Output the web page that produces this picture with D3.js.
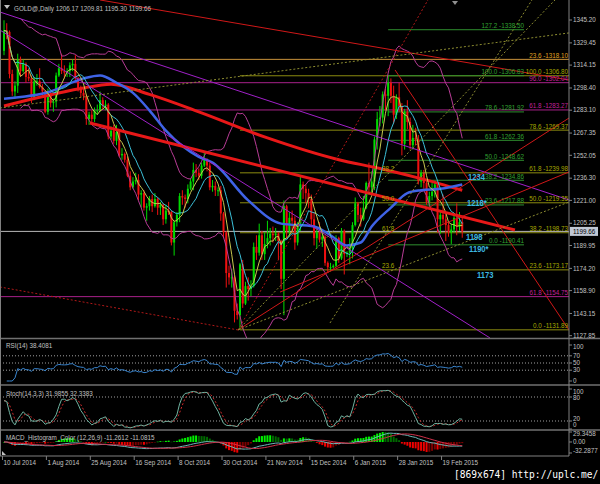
<!DOCTYPE html>
<html><head><meta charset="utf-8">
<script src="https://cdn.jsdelivr.net/npm/d3@7"></script>
<style>
html,body{margin:0;padding:0;background:#000;}
svg{display:block;}
text{font-family:"Liberation Sans",Arial,sans-serif;}
text.mark{font-family:"DejaVu Sans Mono",monospace;}
</style></head><body>
<svg id="chart" width="600" height="484"></svg>
<script>
// ---- daily bars, 10 Jul 2014 .. 2 Mar 2015 ----
const opens = [1324,1338,1337,1308,1296,1300,1318,1310,1315,1306,1305,1292,1303,1303,1299,1296,1282,1294,1288,1289,
1307,1312,1310,1309,1310,1314,1315,1305,1298,1295,1293,1277,1280,1277,1283,1283,1290,1286,1287,1265,
1269,1262,1268,1252,1253,1249,1238,1230,1234,1235,1225,1226,1216,1217,1222,1217,1222,1216,1218,1208,
1214,1213,1192,1206,1211,1224,1223,1222,1229,1234,1242,1240,1238,1245,1249,1245,1230,1231,1228,1228,
1212,1199,1171,1168,1168,1145,1142,1177,1150,1162,1160,1162,1189,1185,1197,1184,1191,1195,1198,1197,
1198,1193,1167,1217,1200,1209,1207,1192,1205,1232,1229,1226,1222,1208,1195,1199,1194,1196,1178,1175,
1175,1176,1195,1181,1200,1184,1185,1188,1204,1219,1211,1208,1216,1233,1230,1234,1263,1277,1278,1294,
1293,1302,1293,1280,1292,1286,1260,1282,1275,1259,1264,1263,1234,1240,1233,1220,1224,1227,1232,1208,
1211,1208,1204,1199,1201,1209,1203,1206.17];
const highs = [1345,1343,1338,1311,1303,1322,1320,1318,1316,1312,1307,1306,1308,1312,1301,1297,1298,1296,1291,1309,
1315,1322,1314,1312,1316,1318,1321,1306,1300,1298,1294,1282,1283,1285,1287,1296,1292,1290,1288,1272,
1273,1273,1269,1257,1254,1251,1241,1237,1240,1239,1228,1228,1219,1224,1225,1226,1223,1220,1219,1218,
1220,1214,1207,1213,1226,1228,1225,1232,1236,1247,1246,1243,1247,1255,1250,1247,1235,1234,1230,1231,
1213,1200,1176,1174,1169,1150,1178,1180,1165,1168,1166,1192,1197,1205,1200,1199,1207,1202,1203,1202,
1199,1194,1221,1218,1213,1214,1210,1206,1238,1234,1232,1229,1225,1213,1202,1206,1199,1197,1179,1178,
1177,1197,1196,1202,1201,1186,1195,1206,1223,1220,1216,1224,1234,1247,1241,1265,1282,1286,1296,1298,
1307,1305,1300,1294,1302,1288,1284,1290,1278,1273,1271,1266,1242,1242,1235,1227,1233,1234,1233,1214,
1225,1212,1206,1205,1212,1219,1213,1209.81];
const lows = [1321,1332,1305,1293,1291,1295,1306,1309,1302,1303,1288,1290,1300,1298,1293,1281,1280,1285,1282,1285,
1306,1308,1305,1306,1306,1310,1304,1296,1292,1290,1273,1273,1275,1275,1280,1282,1284,1283,1263,1263,
1260,1259,1251,1249,1247,1237,1228,1229,1232,1221,1216,1214,1207,1214,1213,1216,1211,1211,1204,1205,
1211,1190,1183,1203,1206,1218,1216,1219,1228,1228,1237,1235,1236,1244,1241,1228,1227,1224,1224,1207,
1195,1161,1163,1161,1137,1139,1132,1147,1149,1152,1155,1161,1180,1183,1180,1180,1188,1190,1192,1193,
1180,1160,1142,1195,1196,1199,1187,1190,1200,1222,1219,1216,1204,1190,1188,1192,1189,1176,1171,1172,
1174,1175,1178,1180,1170,1182,1177,1181,1203,1206,1203,1207,1215,1226,1225,1228,1256,1272,1274,1283,
1279,1288,1274,1277,1282,1252,1256,1270,1256,1256,1259,1232,1230,1229,1218,1216,1221,1223,1199,1198,
1205,1193,1196,1191,1199,1197,1200,1195.30];
const closes = [1338,1337,1308,1296,1300,1318,1310,1315,1306,1305,1292,1303,1303,1299,1296,1282,1294,1288,1289,1307,
1312,1310,1309,1310,1314,1315,1305,1298,1295,1293,1277,1280,1277,1283,1283,1290,1286,1287,1265,1269,
1262,1268,1252,1253,1249,1238,1230,1234,1235,1225,1226,1216,1217,1222,1217,1222,1216,1218,1208,1214,
1213,1192,1206,1211,1224,1223,1222,1229,1234,1242,1240,1238,1245,1249,1245,1230,1231,1228,1228,1212,
1199,1171,1168,1168,1145,1142,1177,1150,1162,1160,1162,1189,1185,1197,1184,1191,1195,1198,1197,1198,
1193,1167,1217,1200,1209,1207,1192,1205,1232,1229,1226,1222,1208,1195,1199,1194,1196,1178,1175,1175,
1176,1195,1181,1200,1184,1185,1188,1204,1219,1211,1208,1216,1233,1230,1234,1263,1277,1278,1294,1293,
1302,1293,1280,1292,1286,1260,1282,1275,1259,1264,1263,1234,1240,1233,1220,1224,1227,1232,1208,1211,
1208,1204,1199,1201,1209,1203,1206,1199.66];

// ---- time axis ----
const dateLabels = ["10 Jul 2014","1 Aug 2014","25 Aug 2014","16 Sep 2014","8 Oct 2014","30 Oct 2014",
                    "21 Nov 2014","15 Dec 2014","6 Jan 2015","28 Jan 2015","19 Feb 2015"];
const dateIdx = [0,16,32,48,64,80,96,112,128,144,160];

// ---- price axis ----
const priceTicks = [1345.20,1329.45,1314.15,1298.40,1283.10,1267.35,1252.05,1236.30,1221.00,1205.25,1189.95,1174.20,1158.90,1143.15,1127.85];
const lastPrice = 1199.66;

// ---- slow averages (bar index, price) ----
const blueIdx = [0,17,29,35,41,47,53,59,71,76,89,101,113,119,125,130,134,141,147,152,159,167];
const blueVal = [1291,1296,1305,1307,1302,1295,1283,1269,1251,1247,1221,1205,1203,1197,1190,1192,1203,1216,1226,1228,1229,1232];
const redMaIdx = [0,13,28,39,53,71,96,122,137,152,167];
const redMaVal = [1286,1292,1298,1301,1294,1282,1264,1249,1243,1236,1228];

// ---- fibonacci levels [level, price] ----
const oliveFib = [[0.0,1131.89],[23.6,1173.17],[38.2,1198.73],[50.0,1219.35],[61.8,1239.98],[78.6,1269.37],[100.0,1306.80]];
const greenFib = [[0.0,1190.41],[23.6,1217.88],[38.2,1234.86],[50.0,1248.62],[61.8,1262.36],[78.6,1281.92],[100.0,1306.83],[127.2,1338.50]];
const magentaFib = [[96.0,1302.04],[61.8,1283.27],[61.8,1154.75]];
const orangeFib = [[23.6,1318.10]];
const oliveInner = [["38.2",1239.98],["50.0",1219.35],["61.8",1198.73],["23.6",1173.17]];

// ---- trend lines: [[idx, price],[idx, price]] ----
const thickRedLines = [[[31.3,1274.3],[186.2,1200.6]]];
const violetLines = [[[-1.5,1350.7],[205.9,1221.3]], [[-1.5,1338.3],[177.1,1126.3]]];
const redLines = [[[35.0,1359.0],[205.9,1303.9]], [[85.3,1131.8],[205.9,1277.7]], [[142.5,1310.8],[205.9,1131.8]], [[100.6,1157.9],[205.9,1240.6]]];
const redDotted = [[[-1.5,1161.4],[85.3,1131.8]], [[85.3,1131.8],[154.5,1359.0]]];
const oliveDotted = [[[85.3,1131.8],[205.9,1219.9]], [[118.8,1136.6],[192.4,1359.0]], [[85.3,1131.8],[200.8,1359.0]], [[-1.5,1284.6],[205.9,1336.3]]];

// ---- level notes ----
const notes = [["1234",169.1,1237.1],["1218*",168.7,1219.2],["1198",168.4,1195.8],["1190*",169.5,1187.5],["1173",172.4,1169.6]];

// ---- indicator captions ----
const rsiCaption = "RSI(14) 38.4081";
const stochCaption = "Stoch(14,3,3) 31.9855 32.3383";
const macdCaption = "MACD_Histogram_Color (12,26,9) -11.2612 -11.0815";
const macdTop = 29.3458, macdBottom = -32.2877;
const histGain = 2.7;   // histogram drawn at the indicator's amplified scale

const FS = 6.3;
const svg = d3.select("#chart");
const AX = 569;
const n = closes.length;
const x = d3.scaleLinear().domain([0, n - 1]).range([4, 4 + 2.744 * (n - 1)]);
const y = d3.scaleLinear().domain([1127.85, 1345.20]).range([335.7, 20]);
const yR = d3.scaleLinear().domain([0, 100]).range([381, 345]);
const yS = d3.scaleLinear().domain([0, 100]).range([429, 389]);
const yM = d3.scaleLinear().domain([macdBottom, macdTop]).range([453, 432]);

svg.append("rect").attr("width", 600).attr("height", 484).attr("fill", "#000");

const defs = svg.append("defs");
function clip(id, y0, y1) {
  defs.append("clipPath").attr("id", id).append("rect").attr("x", 0).attr("y", y0).attr("width", AX).attr("height", y1 - y0);
}
clip("cMain", 0, 338); clip("cRsi", 340, 384); clip("cSto", 386, 429); clip("cMacd", 431, 455.5);

const main = svg.append("g").attr("clip-path", "url(#cMain)");
const seg = d3.line().x(d => x(d[0])).y(d => y(d[1]));

// horizontal levels
function levels(list, i0, i1, color) {
  list.forEach(([lv, p]) => {
    main.append("line").attr("x1", x(i0)).attr("x2", x(i1)).attr("y1", y(p)).attr("y2", y(p))
      .attr("stroke", color).attr("stroke-width", 1);
  });
}
levels(orangeFib, -3, 207, "#c8913a");
levels(magentaFib, -3, 207, "#a8208a");
levels(oliveFib, 86, 207, "#8c8c10");
levels(greenFib, 140, 189.5, "#2f8f2f");

// bid line
main.append("line").attr("x1", 0).attr("x2", AX).attr("y1", y(lastPrice)).attr("y2", y(lastPrice))
  .attr("stroke", "#b8b8b8").attr("stroke-width", 1);

// candles
const bars = main.append("g");
closes.forEach((c, i) => {
  const o = opens[i], up = c >= o, col = up ? "#00dc00" : "#f01010";
  bars.append("line").attr("x1", x(i)).attr("x2", x(i)).attr("y1", y(highs[i])).attr("y2", y(lows[i]))
    .attr("stroke", col).attr("stroke-width", 1);
  const t = Math.min(y(o), y(c)), h = Math.max(1, Math.abs(y(o) - y(c)));
  bars.append("rect").attr("x", x(i) - 1).attr("y", t).attr("width", 2).attr("height", h).attr("fill", col);
});

// indicators computed from closes
function sma(a, p) { return a.map((_, i) => { const s = Math.max(0, i - p + 1); return d3.mean(a.slice(s, i + 1)); }); }
function ema(a, p) { const k = 2 / (p + 1); const out = []; a.forEach((v, i) => out.push(i ? out[i - 1] + k * (v - out[i - 1]) : v)); return out; }
const ma5 = sma(closes, 5), ma10 = sma(closes, 10), mid20 = sma(closes, 20);
const bbUp = [], bbDn = [];
closes.forEach((c, i) => {
  const s = Math.max(0, i - 19), w = closes.slice(s, i + 1), m = mid20[i];
  const sd = Math.sqrt(d3.mean(w.map(v => (v - m) * (v - m))));
  bbUp.push(m + 2 * sd); bbDn.push(m - 2 * sd);
});
const serie = (arr, from) => arr.map((v, i) => [i, v]).filter(d => d[0] >= from);
const ln = d3.line().x(d => x(d[0])).y(d => y(d[1]));
const lnCurve = d3.line().x(d => x(d[0])).y(d => y(d[1])).curve(d3.curveMonotoneX);

main.append("path").attr("d", ln(serie(bbUp, 6))).attr("fill", "none").attr("stroke", "#b83c96").attr("stroke-width", 1);
main.append("path").attr("d", ln(serie(bbDn, 6))).attr("fill", "none").attr("stroke", "#b83c96").attr("stroke-width", 1);
main.append("path").attr("d", lnCurve(redMaIdx.map((d, i) => [d, redMaVal[i]]))).attr("fill", "none").attr("stroke", "#e81818").attr("stroke-width", 3);
main.append("path").attr("d", lnCurve(blueIdx.map((d, i) => [d, blueVal[i]]))).attr("fill", "none").attr("stroke", "#3f63e6").attr("stroke-width", 2.5);
main.append("path").attr("d", ln(serie(ma10, 0))).attr("fill", "none").attr("stroke", "#3cc0d8").attr("stroke-width", 1);
main.append("path").attr("d", ln(serie(ma5, 0))).attr("fill", "none").attr("stroke", "#c8c850").attr("stroke-width", 1);

// trend lines
thickRedLines.forEach(l => main.append("path").attr("d", seg(l)).attr("stroke", "#e81818").attr("stroke-width", 3));
violetLines.forEach(l => main.append("path").attr("d", seg(l)).attr("stroke", "#a020c8").attr("stroke-width", 1));
redLines.forEach(l => main.append("path").attr("d", seg(l)).attr("stroke", "#d01818").attr("stroke-width", 1));
redDotted.forEach(l => main.append("path").attr("d", seg(l)).attr("stroke", "#b01818").attr("stroke-width", 1).attr("stroke-dasharray", "2,2"));
oliveDotted.forEach(l => main.append("path").attr("d", seg(l)).attr("stroke", "#8c8c30").attr("stroke-width", 1).attr("stroke-dasharray", "2,2"));

// level captions
function captions(list, endX, color) {
  list.forEach(([lv, p]) => {
    main.append("text").attr("x", endX).attr("y", y(p) - 1.5).attr("text-anchor", "end")
      .attr("font-size", FS).attr("fill", color).text(lv.toFixed(1) + " -" + p.toFixed(2));
  });
}
captions(orangeFib, AX - 1, "#e0a020");
captions(magentaFib, AX - 1, "#c0209a");
captions(oliveFib, AX - 1, "#a8a800");
captions(greenFib, x(189.5), "#30a030");
oliveInner.forEach(([t, p]) => main.append("text").attr("x", x(137.8)).attr("y", y(p) - 1.5)
  .attr("font-size", FS).attr("fill", "#a8a800").text(t));
notes.forEach(([t, i, p]) => main.append("text")
  .attr("transform", `translate(${x(i)},${y(p)}) scale(0.8,1)`).attr("dy", "0.35em")
  .attr("font-size", 9.5).attr("font-weight", "bold").attr("fill", "#3cb8e0").text(t));

// header
svg.append("path").attr("d", "M4,5 L10,5 L7,9 Z").attr("fill", "#c0c0c0");
svg.append("text").attr("x", 14).attr("y", 10.5).attr("font-size", FS).attr("fill", "#c0c0c0")
  .text("GOLD@,Daily  1206.17 1209.81 1195.30 1199.66");

// ---- RSI ----
function rsi(c, p) {
  const out = [null]; let ag = 0, al = 0;
  for (let i = 1; i < c.length; i++) {
    const d = c[i] - c[i - 1], g = Math.max(d, 0), l = Math.max(-d, 0);
    if (i <= p) { ag = (ag * (i - 1) + g) / i; al = (al * (i - 1) + l) / i; }
    else { ag = (ag * (p - 1) + g) / p; al = (al * (p - 1) + l) / p; }
    out.push(al === 0 ? 100 : 100 - 100 / (1 + ag / al));
  }
  return out;
}
const rsiV = rsi(closes, 14);
const gR = svg.append("g").attr("clip-path", "url(#cRsi)");
[70, 50, 30].forEach(v => gR.append("line").attr("x1", 0).attr("x2", AX).attr("y1", yR(v)).attr("y2", yR(v))
  .attr("stroke", "#a0a0a0").attr("stroke-dasharray", "1,2"));
gR.append("path").attr("d", d3.line().x(d => x(d[0])).y(d => yR(d[1]))(serie(rsiV, 1)))
  .attr("fill", "none").attr("stroke", "#3a86d0").attr("stroke-width", 1);

// ---- Stochastic ----
const kRaw = closes.map((c, i) => {
  const s = Math.max(0, i - 13);
  return [c - d3.min(lows.slice(s, i + 1)), d3.max(highs.slice(s, i + 1)) - d3.min(lows.slice(s, i + 1))];
});
const kSlow = kRaw.map((_, i) => {
  const s = Math.max(0, i - 2), w = kRaw.slice(s, i + 1);
  return 100 * d3.sum(w, d => d[0]) / d3.sum(w, d => d[1]);
});
const dSig = sma(kSlow, 3);
const gS = svg.append("g").attr("clip-path", "url(#cSto)");
[80, 20].forEach(v => gS.append("line").attr("x1", 0).attr("x2", AX).attr("y1", yS(v)).attr("y2", yS(v))
  .attr("stroke", "#a0a0a0").attr("stroke-dasharray", "1,2"));
const lS = d3.line().x(d => x(d[0])).y(d => yS(d[1]));
gS.append("path").attr("d", lS(serie(dSig, 0))).attr("fill", "none").attr("stroke", "#cc2a2a").attr("stroke-dasharray", "2,2");
gS.append("path").attr("d", lS(serie(kSlow, 0))).attr("fill", "none").attr("stroke", "#6fb3a0");

// ---- MACD ----
const e12 = ema(closes, 12), e26 = ema(closes, 26);
const macd = closes.map((_, i) => e12[i] - e26[i]);
const sig = sma(macd, 9);
const hist = macd.map((m, i) => histGain * (m - sig[i]));
const gM = svg.append("g").attr("clip-path", "url(#cMacd)");
hist.forEach((h, i) => {
  const prev = i ? hist[i - 1] : 0;
  const col = h >= 0 ? (h >= prev ? "#00f000" : "#006a00") : (h <= prev ? "#f00000" : "#7a0000");
  gM.append("rect").attr("x", x(i) - 1).attr("width", 2)
    .attr("y", Math.min(yM(h), yM(0))).attr("height", Math.max(0.5, Math.abs(yM(h) - yM(0)))).attr("fill", col);
});
const lM = d3.line().x(d => x(d[0])).y(d => yM(d[1]));
gM.append("path").attr("d", lM(serie(macd, 0))).attr("fill", "none").attr("stroke", "#6ab8b8");
gM.append("path").attr("d", lM(serie(sig, 0))).attr("fill", "none").attr("stroke", "#d0304a");

// ---- frames and separators ----
[338.5, 385, 430].forEach(yy => svg.append("line").attr("x1", 0).attr("x2", 600)
  .attr("y1", yy).attr("y2", yy).attr("stroke", "#707070").attr("stroke-width", 1.5));
svg.append("line").attr("x1", 0).attr("x2", AX).attr("y1", 456).attr("y2", 456).attr("stroke", "#808080");
svg.append("line").attr("x1", AX).attr("x2", AX).attr("y1", 0).attr("y2", 456).attr("stroke", "#808080");
svg.append("line").attr("x1", 0.5).attr("x2", 0.5).attr("y1", 0).attr("y2", 456).attr("stroke", "#808080");

// price axis
const axT = (yy, t, ty) => {
  svg.append("line").attr("x1", AX).attr("x2", AX + 3).attr("y1", yy).attr("y2", yy).attr("stroke", "#808080");
  svg.append("text").attr("x", AX + 4).attr("y", ty === undefined ? yy : ty).attr("dy", "0.35em")
    .attr("font-size", FS).attr("fill", "#c0c0c0").text(t);
};
priceTicks.forEach(p => axT(y(p), p.toFixed(2)));
svg.append("rect").attr("x", AX + 1).attr("y", y(lastPrice) - 4.5).attr("width", 28).attr("height", 9).attr("fill", "#c0c8d4");
svg.append("text").attr("x", AX + 4).attr("y", y(lastPrice)).attr("dy", "0.35em").attr("font-size", FS).attr("fill", "#000").text(lastPrice.toFixed(2));

[[100, "100", 346.5], [70, "70"], [50, "50"], [30, "30"], [0, "0", 380.5]].forEach(([v, t, ty]) => axT(yR(v), t, ty));
[[100, "100", 391.5], [80, "80", 398], [20, "20", 418.5], [0, "0", 425]].forEach(([v, t, ty]) => axT(yS(v), t, ty));
[[macdTop, macdTop.toFixed(4), 434], [0, "0.00"], [macdBottom, macdBottom.toFixed(4), 451]].forEach(([v, t, ty]) => axT(yM(v), t, ty));

// captions of panes
svg.append("text").attr("x", 6).attr("y", 348).attr("font-size", FS).attr("fill", "#c0c0c0").text(rsiCaption);
svg.append("text").attr("x", 6).attr("y", 396).attr("font-size", FS).attr("fill", "#c0c0c0").text(stochCaption);
svg.append("text").attr("x", 6).attr("y", 440).attr("font-size", FS).attr("fill", "#c0c0c0").text(macdCaption);

// time axis
dateIdx.forEach((i, k) => {
  svg.append("line").attr("x1", x(i) - 1.5).attr("x2", x(i) - 1.5).attr("y1", 456).attr("y2", 460).attr("stroke", "#808080");
  svg.append("text").attr("x", x(i) - 0.5).attr("y", 465).attr("font-size", FS).attr("fill", "#c0c0c0").text(dateLabels[k]);
});
svg.append("path").attr("d", "M2,451 L2,455 L6,455 Z").attr("fill", "#c0c0c0");
svg.append("path").attr("d", "M452,1 L458,1 L455,5 Z").attr("fill", "#909090");

svg.append("text").attr("class", "mark").attr("x", 454).attr("y", 478).attr("font-size", 9.6).attr("fill", "#ffffff")
  .text("[869x674] http://uplc.me/");
</script>
</body></html>
